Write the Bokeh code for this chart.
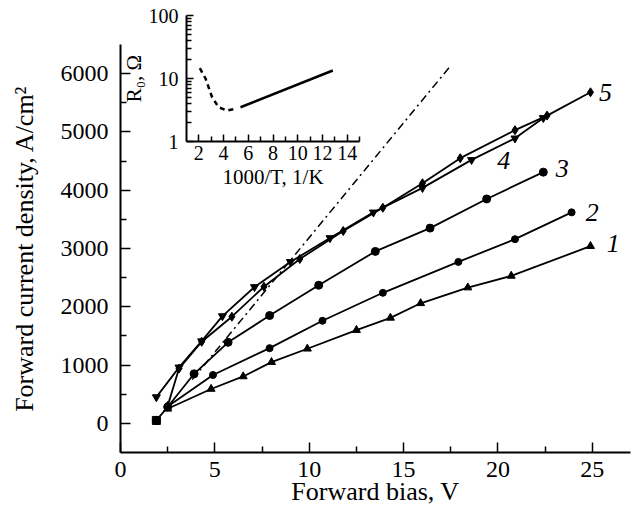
from bokeh.plotting import figure
from bokeh.models import FixedTicker, PrintfTickFormatter
from bokeh.layouts import column
from bokeh.core.properties import value
from bokeh.embed import file_html
from bokeh.resources import INLINE

# ---------------- data (main panel) ----------------
c1_x = [2.5, 4.8, 6.5, 8.0, 9.9, 12.5, 14.3, 15.9, 18.4, 20.7, 24.9]
c1_y = [250, 590, 805, 1050, 1280, 1600, 1810, 2060, 2330, 2530, 3040]

c2_x = [2.5, 4.9, 7.9, 10.7, 13.9, 17.9, 20.9, 23.9]
c2_y = [290, 830, 1290, 1760, 2240, 2770, 3160, 3620]

c3_x = [1.9, 2.5, 3.9, 5.7, 7.9, 10.5, 13.5, 16.4, 19.4, 22.4]
c3_y = [50, 280, 850, 1390, 1850, 2370, 2950, 3350, 3850, 4310]

c4_x = [1.9, 3.1, 4.3, 5.4, 7.1, 9.0, 11.1, 13.4, 16.0, 18.6, 20.9, 22.4]
c4_y = [450, 960, 1410, 1840, 2340, 2770, 3180, 3620, 4040, 4520, 4890, 5240]

c5_x = [2.5, 3.1, 4.3, 5.9, 7.6, 9.5, 11.8, 13.9, 16.0, 18.0, 20.9, 22.6, 24.9]
c5_y = [300, 940, 1400, 1830, 2345, 2820, 3300, 3700, 4120, 4550, 5030, 5280, 5680]

fit_x = [3.8, 17.4]
fit_y = [750, 6100]

curve_names = ["1", "2", "3", "4", "5"]
name_x = [26.1, 25.0, 23.4, 20.3, 25.7]
name_y = [3080, 3620, 4370, 4510, 5680]

x_major = [0, 5, 10, 15, 20, 25]
x_minor = [2.5, 7.5, 12.5, 17.5, 22.5]
y_major = [0, 1000, 2000, 3000, 4000, 5000, 6000]
y_minor = [500, 1500, 2500, 3500, 4500, 5500]

# ---------------- data (inset) ----------------
r_dash_x = [2.08, 2.55, 3.08, 3.6, 4.29, 4.96]
r_dash_y = [14.6, 9.9, 5.0, 3.5, 3.1, 3.3]
r_solid_x = [5.37, 12.84]
r_solid_y = [3.5, 13.4]

ix_major = [2, 4, 6, 8, 10, 12, 14]
ix_minor = [3, 5, 7, 9, 11, 13, 15]
iy_major = [1, 10, 100]
iy_minor = [2, 3, 4, 5, 6, 7, 8, 9, 20, 30, 40, 50, 60, 70, 80, 90]

FONT = "Liberation Serif"


def style_axes(fig, tick_size, label_size, major_in, minor_in):
    for ax in fig.axis:
        ax.axis_line_color = "black"
        ax.axis_line_width = 2
        ax.major_tick_line_color = "black"
        ax.minor_tick_line_color = "black"
        ax.major_tick_line_width = 1.5
        ax.minor_tick_line_width = 1.5
        ax.major_tick_in = major_in
        ax.major_tick_out = 0
        ax.minor_tick_in = minor_in
        ax.minor_tick_out = 0
        ax.major_label_text_font = FONT
        ax.major_label_text_font_size = tick_size
        ax.major_label_text_color = "black"
        ax.axis_label_text_font = FONT
        ax.axis_label_text_font_size = label_size
        ax.axis_label_text_font_style = "normal"
        ax.axis_label_text_color = "black"


# ---------------- main figure ----------------
p = figure(frame_width=510, frame_height=408,
           x_range=(0, 27.02), y_range=(-500, 6500),
           output_backend="svg", toolbar_location=None,
           min_border_left=120, min_border_right=2,
           min_border_top=44, min_border_bottom=60)
p.outline_line_color = None
p.xgrid.visible = False
p.ygrid.visible = False
p.xaxis.ticker = FixedTicker(ticks=x_major, minor_ticks=x_minor)
p.yaxis.ticker = FixedTicker(ticks=y_major, minor_ticks=y_minor)
p.xaxis.axis_label = "Forward bias, V"
p.yaxis.axis_label = "Forward current density, A/cm\u00b2"
style_axes(p, "24px", "26px", 10, 6)
p.xaxis.major_label_standoff = 9
p.yaxis.major_label_standoff = 12
p.xaxis.axis_label_standoff = -3
p.yaxis.axis_label_standoff = 19

p.line(fit_x, fit_y, line_color="black", line_width=1.5, line_dash="8 4 2 4")

series = [
    (c1_x, c1_y, "triangle", 8),
    (c2_x, c2_y, "circle", 7),
    (c3_x, c3_y, "circle", 8),
    (c4_x, c4_y, "inverted_triangle", 8),
    (c5_x, c5_y, "diamond", 9),
]
for xs, ys, mk, sz in series:
    p.line(xs, ys, line_color="black", line_width=1.8)
    p.scatter(xs, ys, marker=mk, size=sz, color="black")
p.scatter(c3_x[:1], c3_y[:1], marker="square", size=8, color="black")

p.text(x=name_x, y=name_y, text=curve_names, text_font=value(FONT),
       text_font_size="26px", text_font_style="italic", text_color="black",
       text_align="center", text_baseline="middle")

# ---------------- inset ----------------
q = figure(frame_width=173, frame_height=126,
           x_range=(1, 15), y_range=(1, 100), y_axis_type="log",
           output_backend="svg", toolbar_location=None,
           min_border_left=120, min_border_right=2,
           min_border_top=15, min_border_bottom=58)
q.outline_line_color = None
q.background_fill_alpha = 0
q.border_fill_alpha = 0
q.xgrid.visible = False
q.ygrid.visible = False
q.xaxis.ticker = FixedTicker(ticks=ix_major, minor_ticks=ix_minor)
q.yaxis.ticker = FixedTicker(ticks=iy_major, minor_ticks=iy_minor)
q.yaxis.formatter = PrintfTickFormatter(format="%d")
q.xaxis.axis_label = "1000/T, 1/K"
q.yaxis.axis_label = "R\u2080, \u03a9"
style_axes(q, "20px", "21px", 7, 5)
q.xaxis.major_label_standoff = 4
q.yaxis.major_label_standoff = 8
q.xaxis.axis_label_standoff = 2
q.yaxis.axis_label_standoff = 0
q.yaxis.major_label_orientation = "horizontal"

q.line(r_dash_x, r_dash_y, line_color="black", line_width=2.5, line_dash="5 4")
q.line(r_solid_x, r_solid_y, line_color="black", line_width=2.5)

q.styles = {"position": "absolute", "left": "66px", "top": "0px", "z-index": "2"}

layout = column(p, q)
open("out.html", "w").write(file_html(layout, INLINE))
